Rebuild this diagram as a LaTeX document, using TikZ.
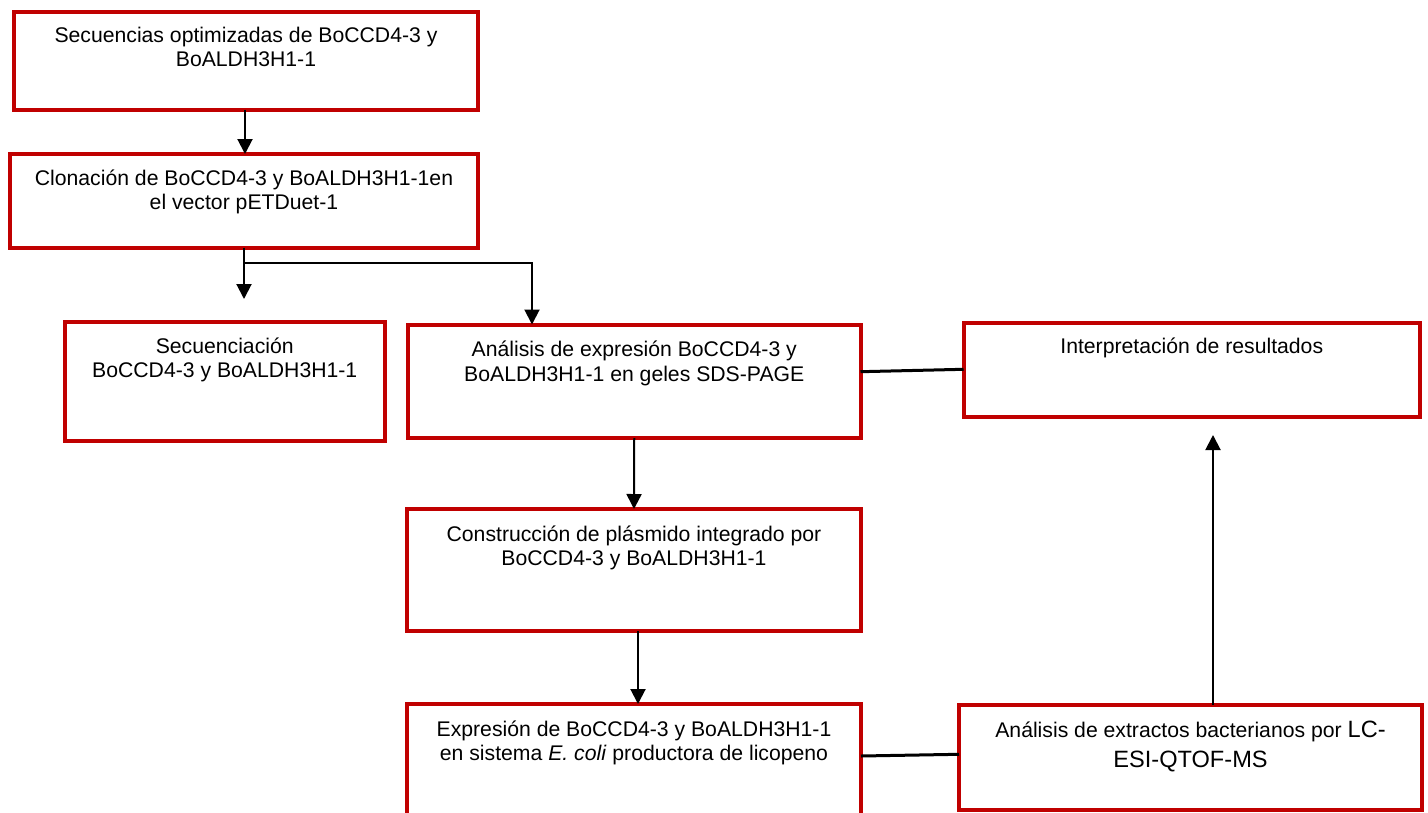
\documentclass[tikz,border=0pt]{standalone}
\usepackage{fontspec}
\setmainfont{Liberation Sans}
\usetikzlibrary{arrows.meta,calc}
\definecolor{boxred}{HTML}{C00000}
\newcommand{\twolines}[2]{\begin{tabular}[t]{@{}c@{}}#1\\#2\end{tabular}}
\tikzset{
  box/.style={draw=boxred, line width=4pt, inner sep=0pt, outer sep=0pt},
  txt/.style={anchor=base, inner sep=0pt, outer sep=0pt, font=\fontsize{21.2}{24.5}\selectfont},
  conn/.style={line width=2pt, draw=black},
  arr/.style={conn, -{Triangle[width=15pt,length=15pt]}},
  link/.style={line width=3pt, draw=black},
}
\begin{document}
\begin{tikzpicture}[x=1pt,y=-1pt]
\useasboundingbox (0,0) rectangle (1428,812);
\clip (0,0) rectangle (1428,812);
\fill[white] (0,0) rectangle (1428,812);

% boxes
\node[box, minimum width=464pt, minimum height=97.5pt] (b1) at (246,60.75) {};
\node[box, minimum width=468pt, minimum height=93.5pt] (b2) at (244,200.75) {};
\node[box, minimum width=319.5pt, minimum height=118.5pt] (b3) at (224.75,381.25) {};
\node[box, minimum width=452.5pt, minimum height=113.5pt] (b4) at (634.25,381.25) {};
\node[box, minimum width=456.5pt, minimum height=94pt] (b5) at (1191.75,370) {};
\node[box, minimum width=454pt, minimum height=122pt] (b6) at (634,570) {};
\node[box, minimum width=454pt, minimum height=116pt] (b7) at (634,762) {};
\node[box, minimum width=463pt, minimum height=105pt] (b8) at (1190.5,757.5) {};

% texts
\node[txt] (t1) at ($(b1.north)+(0,30)$) {\twolines{Secuencias optimizadas de BoCCD4-3 y}{BoALDH3H1-1}};
\node[txt] (t2) at ($(b2.north)+(0,31)$) {\twolines{Clonación de BoCCD4-3 y BoALDH3H1-1en}{el vector pETDuet-1}};
\node[txt] (t3) at ($(b3.north)+(0,31)$) {\twolines{Secuenciación}{BoCCD4-3 y BoALDH3H1-1}};
\node[txt] (t4) at ($(b4.north)+(0,32)$) {\twolines{Análisis de expresión BoCCD4-3 y}{BoALDH3H1-1 en geles SDS-PAGE}};
\node[txt] (t5) at ($(b5.north)+(0,30)$) {Interpretación de resultados};
\node[txt] (t6) at ($(b6.north)+(0,32)$) {\twolines{Construcción de plásmido integrado por}{BoCCD4-3 y BoALDH3H1-1}};
\node[txt] (t7) at ($(b7.north)+(0,32)$) {\twolines{Expresión de BoCCD4-3 y BoALDH3H1-1}{en sistema \textit{E. coli} productora de licopeno}};
\node[txt, font=\fontsize{21.2}{30}\selectfont] (t8) at ($(b8.north)+(0,32)$) {\twolines{Análisis de extractos bacterianos por {\fontsize{23.6}{30}\selectfont LC-}}{\fontsize{23.6}{30}\selectfont ESI-QTOF-MS}};

% connector points
\coordinate (j1) at (244,263);
\coordinate (e3) at (244,299);
\coordinate (e5) at (1213,435);

% connectors
\draw[arr] (b1.south -| 245,0) -- (b2.north -| 245,0);
\draw[arr] (b2.south) -- (e3);
\draw[arr] (j1) -| ([xshift=124pt]b4.north west);
\draw[arr] (b4.south) -- (b6.north);
\draw[arr] (b6.south -| 638,0) -- (b7.north -| 638,0);
\draw[arr] (b8.north -| e5) -- (e5);
\draw[link] (b4.east |- 0,371.7) -- (b5.west |- 0,369.3);
\draw[link] (b7.east |- 0,756) -- (b8.west |- 0,754.3);
\end{tikzpicture}
\end{document}
